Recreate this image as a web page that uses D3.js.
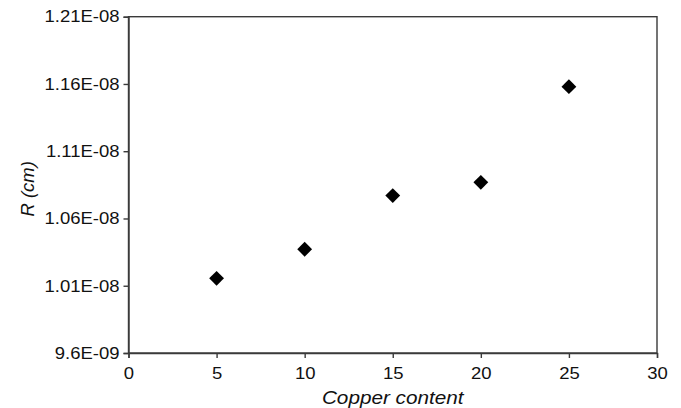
<!DOCTYPE html>
<html>
<head>
<meta charset="utf-8">
<script src="https://cdn.jsdelivr.net/npm/d3@7"></script>
<style>
  html, body { margin: 0; padding: 0; background: #fff; }
  svg { display: block; }
  text { font-family: "Liberation Sans", Arial, sans-serif; fill: #111; }
</style>
</head>
<body>
<svg id="chart" width="681" height="408"></svg>
<script>
// Copper content (x) vs. R in cm (y)
const copperContent = [5, 10, 15, 20, 25];
const radiusCm = [1.0155e-8, 1.0371e-8, 1.0770e-8, 1.0869e-8, 1.158e-8];
const xTicks = [0, 5, 10, 15, 20, 25, 30];
const yTicks = [9.6e-9, 1.01e-8, 1.06e-8, 1.11e-8, 1.16e-8, 1.21e-8];
const yTickLabels = ["9.6E-09", "1.01E-08", "1.06E-08", "1.11E-08", "1.16E-08", "1.21E-08"];

const svg = d3.select("#chart");
const margin = { left: 128.5, right: 24, top: 16.7, bottom: 55 };
const W = 681, H = 408;
const x = d3.scaleLinear().domain([0, 30]).range([margin.left, W - margin.right]);
const y = d3.scaleLinear().domain([9.6e-9, 1.21e-8]).range([H - margin.bottom, margin.top]);

const axisColor = "#3a3a3a";
const stretch = 1.12; // glyphs are set slightly wide

// frame
svg.append("rect")
  .attr("x", x(0)).attr("y", y(1.21e-8))
  .attr("width", x(30) - x(0)).attr("height", y(9.6e-9) - y(1.21e-8))
  .attr("fill", "none").attr("stroke", axisColor).attr("stroke-width", 1.4);

const xAxis = svg.append("g")
  .attr("transform", `translate(0,${y(9.6e-9)})`)
  .call(d3.axisBottom(x).tickValues(xTicks).tickSize(5).tickPadding(9).tickFormat(d3.format("d")));
xAxis.selectAll("text").style("font-size", "16.5px");

const yAxis = svg.append("g")
  .attr("transform", `translate(${x(0)},0)`)
  .call(d3.axisLeft(y).tickValues(yTicks).tickSize(5).tickPadding(4)
    .tickFormat((d, i) => yTickLabels[i]));
yAxis.selectAll("text").style("font-size", "16.5px");

[xAxis, yAxis].forEach(g => {
  g.select(".domain").attr("stroke", axisColor).attr("stroke-width", 1.4);
  g.selectAll(".tick line").attr("stroke", axisColor).attr("stroke-width", 1.4);
});

// axis titles
svg.append("text")
  .attr("class", "title")
  .attr("x", (x(0) + x(30)) / 2).attr("y", 404)
  .attr("text-anchor", "middle")
  .style("font-size", "18.5px").style("font-style", "italic")
  .text("Copper content");

svg.append("text")
  .attr("transform", `translate(34,${(y(9.6e-9) + y(1.21e-8)) / 2 + 4}) rotate(-90)`)
  .attr("text-anchor", "middle")
  .style("font-size", "18.5px").style("font-style", "italic")
  .text("R (cm)");

// widen horizontal text slightly
svg.selectAll(".tick text, text.title").each(function () {
  const len = this.getComputedTextLength();
  d3.select(this).attr("textLength", len * stretch).attr("lengthAdjust", "spacingAndGlyphs");
});

// diamond markers
const diamond = d3.symbol().type(d3.symbolDiamond2 || d3.symbolSquare2).size(105);
svg.append("g").selectAll("path")
  .data(copperContent.map((c, i) => [c, radiusCm[i]]))
  .join("path")
  .attr("transform", d => `translate(${x(d[0])},${y(d[1])}) rotate(45)`)
  .attr("d", d3.symbol().type(d3.symbolSquare).size(110))
  .attr("fill", "#000");
</script>
</body>
</html>
